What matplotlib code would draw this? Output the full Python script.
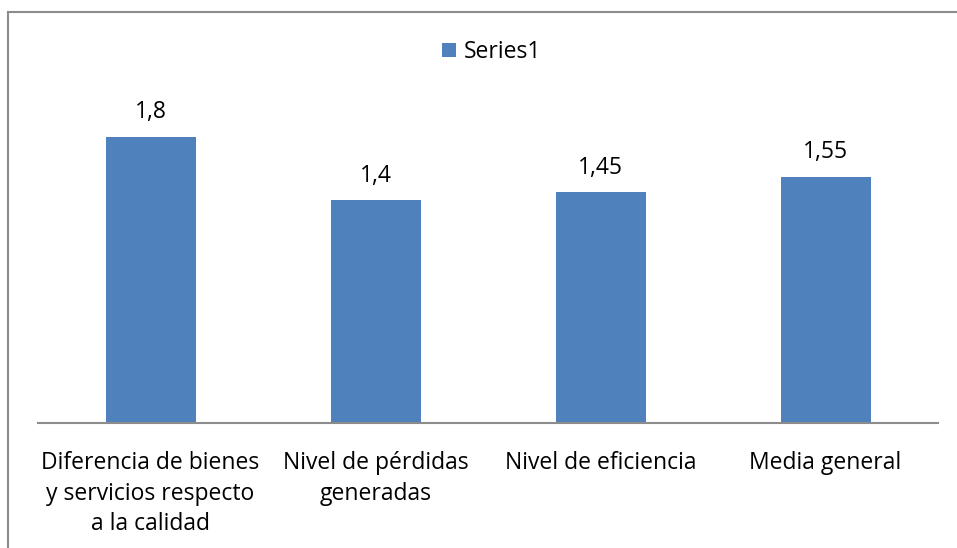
import matplotlib
matplotlib.use("Agg")
import matplotlib.pyplot as plt
from matplotlib.lines import Line2D

categories = ["Diferencia de bienes\ny servicios respecto\na la calidad",
              "Nivel de pérdidas\ngeneradas",
              "Nivel de eficiencia",
              "Media general"]
values = [1.8, 1.4, 1.45, 1.55]
value_labels = ["1,8", "1,4", "1,45", "1,55"]
series_name = "Series1"

plt.rcParams['font.family'] = ['Open Sans', 'DejaVu Sans']

W, H = 957, 548
FS = 16.5
fig = plt.figure(figsize=(W / 100, H / 100), dpi=100)
fig.patch.set_facecolor("white")

# plot area: x 38..938, baseline y=423, top (y=2) at 423-318=105
ax = fig.add_axes([38 / W, (H - 423) / H, 900 / W, 318 / H])
ax.set_xlim(-0.5, len(categories) - 0.5)
ax.set_ylim(0, 2)

bars = ax.bar(range(len(categories)), values, width=0.4, color="#4F81BD",
              label=series_name, zorder=2)
for i, (v, lab) in enumerate(zip(values, value_labels)):
    ax.annotate(lab, (i, v), xytext=(0, 9), textcoords="offset points",
                ha="center", va="bottom", fontsize=FS, color="black")

for s in ["top", "right", "left"]:
    ax.spines[s].set_visible(False)
ax.spines["bottom"].set_color("#8C8C8C")
ax.spines["bottom"].set_linewidth(1.5)
ax.set_yticks([])
ax.set_xticks(range(len(categories)))
ax.set_xticklabels(categories, fontsize=FS, linespacing=1.35)
ax.tick_params(axis="x", length=0, pad=20.5)

leg = ax.legend(loc="center", bbox_to_anchor=(492 / W, (H - 52) / H),
                bbox_transform=fig.transFigure, frameon=False, fontsize=FS,
                handlelength=0.6, handleheight=0.6, handletextpad=0.35)

# chart area border
fig.add_artist(Line2D([8 / W, 8 / W], [0, (H - 12) / H], transform=fig.transFigure,
                      color="#8C8C8C", linewidth=1.5))
fig.add_artist(Line2D([8 / W, 1], [(H - 12) / H, (H - 12) / H], transform=fig.transFigure,
                      color="#8C8C8C", linewidth=1.5))

fig.savefig("out.png", dpi=100)
